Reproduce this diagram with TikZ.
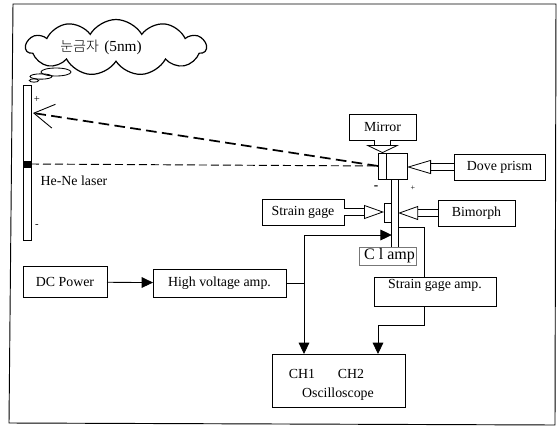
\documentclass[tikz,border=0pt]{standalone}
\usepackage{fontspec}
\setmainfont{Liberation Serif}
\newfontfamily\krfont{Noto Sans CJK KR Light}
\usetikzlibrary{arrows.meta, shapes.symbols, shapes.geometric}
\definecolor{clampGrey}{HTML}{777777}
\tikzset{
    blk/.style={draw, line width=0.65pt, inner sep=0pt, outer sep=0pt},
    part/.style={draw, line width=0.65pt, inner sep=0pt, outer sep=0pt, fill=white},
    txt/.style={inner sep=0pt},
    wire/.style={line width=0.65pt},
    wirearrow/.style={line width=0.65pt, -{Triangle[length=8.5pt, width=8pt]}},
    hollow/.style={line width=0.6pt, double, double distance=4.5pt, -{Triangle[open, fill=white, length=#1, width=10.5pt]}},
    hollow/.default=15pt,
    mirrorfeed/.style={line width=0.6pt, double, double distance=11pt, -{Triangle[open, fill=white, length=6pt, width=25pt]}},
    beam/.style={line width=0.7pt, dash pattern=on 6pt off 3pt},
    thickbeam/.style={line width=1.3pt, dash pattern=on 8pt off 4pt, -{Straight Barb[length=15pt, width=18pt, line width=0.65pt]}},
    bubble/.style={ellipse, draw, line width=0.65pt, inner sep=0pt},
}
\begin{document}
\begin{tikzpicture}[x=0.75pt, y=-0.75pt, font=\fontsize{10.4pt}{12pt}\selectfont]
    \useasboundingbox (0,0) rectangle (558,429);
    \draw[line width=0.7pt] (13,4) -- (556,4) -- (555,425) -- (9,423) -- cycle;

    % cloud and laser side
    \node[cloud, draw, line width=0.9pt, cloud puffs=11, cloud puff arc=120, aspect=3.2, inner sep=0pt,
          minimum width=135pt, minimum height=42pt] (cloudshape) at (116,47.5) {};
    \node[txt, font=\fontsize{11.5pt}{13pt}\selectfont] (cloudtag) at (101,47) {{\krfont\fontsize{10.5pt}{12pt}\selectfont 눈금자}\hspace{4pt}(5nm)};
    \node[bubble, minimum width=22.5pt, minimum height=6pt] (puffa) at (56,72) {};
    \node[bubble, minimum width=16.5pt, minimum height=4pt] (puffb) at (41,76.5) {};
    \node[bubble, minimum width=7pt, minimum height=2.5pt] (puffc) at (34,80.5) {};
    \node[blk, minimum width=6pt, minimum height=116.25pt] (laser) at (27,162.5) {};
    \node[blk, fill=black, minimum width=6pt, minimum height=4.5pt] (spot) at (27,164) {};
    \node[txt, font=\fontsize{8pt}{10pt}\selectfont] (plustop) at (37,99) {+};
    \node[txt, font=\fontsize{8pt}{10pt}\selectfont] (minustop) at (37,226) {-};
    \node[txt] (lasertag) at (74,181) {He-Ne laser};

    % rod and prism
    \node[part, minimum width=4.8pt, minimum height=51pt] (rod) at (395,213) {};
    \node[part, minimum width=5.25pt, minimum height=14.25pt] (gauge) at (387.5,213) {};
    \node[part, minimum width=15.75pt, minimum height=19.5pt] (prism) at (396.5,166) {};
    \node[part, minimum width=6pt, minimum height=19.5pt] (face) at (382,166) {};
    \node[draw=clampGrey, line width=0.6pt, inner sep=0pt, minimum width=42.75pt, minimum height=13.5pt,
          font=\fontsize{12pt}{14pt}\selectfont] (clamp) at (387.5,256) {\hspace{3pt}C l amp};
    \node[txt, font=\bfseries] (minusrod) at (376,188) {-};
    \node[txt, font=\fontsize{6pt}{7pt}\selectfont] (plusrod) at (413,188) {+};

    % boxes
    \node[blk, minimum width=50.25pt, minimum height=19.5pt] (mirror) at (382.5,127) {Mirror};
    \node[blk, minimum width=68.25pt, minimum height=19.5pt] (dove) at (499.5,167) {Dove prism};
    \node[blk, minimum width=61.5pt, minimum height=19.5pt] (gage) at (303,212) {Strain gage};
    \node[blk, minimum width=57.75pt, minimum height=19.5pt] (bimorph) at (476.5,213) {Bimorph};
    \node[blk, minimum width=63pt, minimum height=23.25pt] (dc) at (65,282) {DC Power};
    \node[blk, minimum width=99.75pt, minimum height=21pt] (hv) at (219.5,283) {High voltage amp.};
    \node[blk, minimum width=91.5pt, minimum height=21.75pt] (amp) at (435,291.5) {};
    \node[txt] (amptag) at (435,285) {Strain gage amp.};
    \node[blk, minimum width=99.75pt, minimum height=39.75pt] (scope) at (338.5,380.5) {};
    \node[txt] (chone) at (302,374) {CH1};
    \node[txt] (chtwo) at (351,374) {CH2};
    \node[txt] (scopetag) at (338,394) {Oscilloscope};

    \coordinate (hvjoin) at (304,283);
    \coordinate (feedtop) at (304,235);
    \coordinate (tapdown) at (424,227);
    \coordinate (ampout) at (424,325);
    \coordinate (scopein) at (378,354);
    \coordinate (hitpoint) at (33,113);

    \draw[beam] (spot.east) -- (face.west);
    \draw[thickbeam] (face.west) -- (hitpoint);
    \draw[mirrorfeed] (mirror.south) -- (mirror.south |- face.north);
    \draw[hollow=18pt] (dove.west) -- (dove.west -| prism.east);
    \draw[hollow] (gage.east) -- (gage.east -| gauge.west);
    \draw[hollow] (bimorph.west) -- (bimorph.west -| rod.east);
    \draw[wirearrow] (dc) -- (hv);
    \draw[wire] (hv.east) -- (hvjoin);
    \draw[wirearrow] (feedtop) -- (feedtop -| rod.west);
    \draw[wirearrow] (feedtop) -- (feedtop |- scope.north);
    \draw[wire] (rod.east |- tapdown) -- (tapdown) -- (tapdown |- amp.north);
    \draw[wirearrow] (ampout |- amp.south) -- (ampout) -| (scopein);
\end{tikzpicture}
\end{document}
